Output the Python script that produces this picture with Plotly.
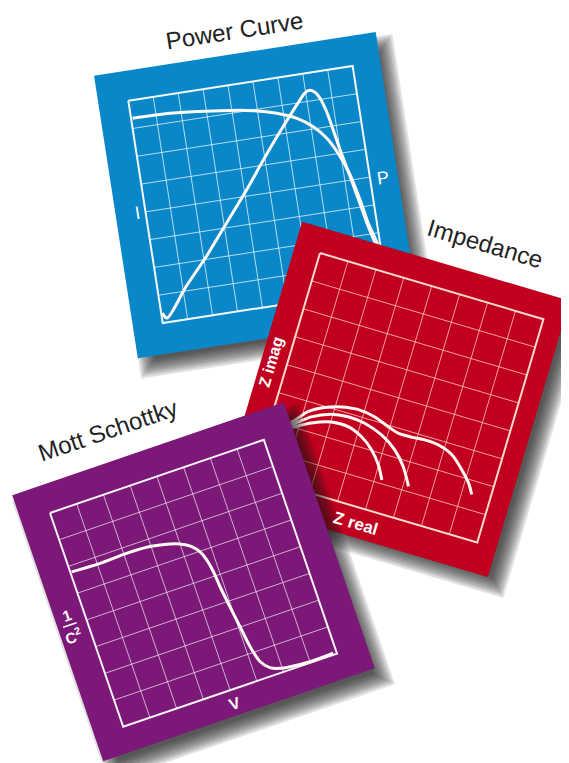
import numpy as np
import plotly.graph_objects as go

# ---- curve data, in grid cell units (x to the right, y upwards) ----

# Power curve panel (9 x 8 cells)
iv_x = [0.06, 1.56, 3.54, 4.84, 5.74, 6.50, 7.09, 7.55, 7.96, 8.24, 8.48, 8.66, 8.87, 9.00, 9.09]
iv_y = [7.36, 7.33, 7.15, 6.97, 6.75, 6.46, 6.08, 5.60, 4.89, 4.19, 3.26, 2.39, 1.70, 0.96, 0.24]

pw_x = [0.04, 0.20, 1.14, 2.11, 3.10, 4.09, 4.93, 5.76, 6.42, 6.72, 6.95, 7.14, 7.34, 7.52, 7.70,
        8.00, 8.23, 8.45, 8.64, 8.84, 9.00, 9.09]
pw_y = [0.35, 0.15, 1.16, 2.10, 3.16, 4.22, 5.18, 6.09, 6.78, 7.08, 7.30, 7.38, 7.30, 7.06, 6.55,
        5.12, 4.13, 3.14, 2.28, 1.53, 0.64, 0.08]

# Impedance panel (8 x 8 cells), three Nyquist arcs
arc_a_x = [0.24, 0.86, 1.37, 2.02, 2.62, 3.15, 3.62, 3.99, 4.25]
arc_a_y = [1.68, 2.03, 2.32, 2.55, 2.56, 2.36, 2.02, 1.59, 1.13]

arc_b_x = [0.24, 0.83, 1.31, 1.94, 2.52, 3.13, 3.80, 4.38, 4.82, 5.19]
arc_b_y = [1.72, 2.14, 2.52, 2.80, 2.88, 2.83, 2.61, 2.25, 1.78, 1.18]

arc_c_x = [0.24, 0.80, 1.15, 1.66, 2.20, 2.77, 3.39, 3.93, 4.33, 4.80, 5.27, 5.76, 6.30, 6.78, 7.13, 7.35]
arc_c_y = [1.76, 2.25, 2.66, 2.96, 3.14, 3.22, 3.14, 2.95, 2.83, 2.83, 2.87, 2.84, 2.65, 2.25, 1.88, 1.53]

# Mott Schottky panel (8 x 8 cells)
ms_x = [0.05, 1.10, 2.10, 2.96, 3.55, 4.00, 4.36, 4.58, 4.71, 4.80, 4.85, 4.95, 5.06, 5.17,
        5.33, 5.59, 5.92, 6.28, 7.00, 7.88]
ms_y = [5.78, 5.74, 5.77, 5.73, 5.62, 5.47, 5.25, 4.98, 4.63, 4.16, 3.58, 2.80, 2.02, 1.23,
        0.62, 0.30, 0.16, 0.10, 0.04, 0.06]

W, H = 569, 763
PAGE_PAD = 8  # default body margin of the html page

# panel geometry: grid origin on the page, tilt, grid size, cells, margins (l, t, r, b)
PANELS = {
    "blue": dict(origin=(128.3, 100.7), angle=-8.8, gw=227, gh=225, cols=9, rows=8,
                 margins=(30, 30, 28, 31), color="#0a87c8",
                 grid="rgba(255,255,255,0.7)", border="rgba(255,255,255,0.95)"),
    "red": dict(origin=(320, 253), angle=16.5, gw=233, gh=233, cols=8, rows=8,
                margins=(26, 25, 20, 30), color="#c0001e",
                grid="rgba(255,215,200,0.75)", border="rgba(255,230,215,0.95)"),
    "purple": dict(origin=(50, 513), angle=-18.9, gw=226, gh=226, cols=8, rows=8,
                   margins=(30, 29, 31, 26), color="#7b1878",
                   grid="rgba(255,255,255,0.65)", border="rgba(255,255,255,0.95)"),
}


def local(p, lx, ly):
    # local pixel coords (relative to grid origin) -> page coords
    th = np.radians(p["angle"])
    c, s = np.cos(th), np.sin(th)
    lx = np.asarray(lx, dtype=float)
    ly = np.asarray(ly, dtype=float)
    ox, oy = p["origin"]
    return ox + lx * c - ly * s, oy + lx * s + ly * c


def cell(p, gx, gy):
    # grid cell units -> page coords
    gx = np.asarray(gx, dtype=float)
    gy = np.asarray(gy, dtype=float)
    return local(p, gx * p["gw"] / p["cols"], (p["rows"] - gy) * p["gh"] / p["rows"])


def rect(p, x0, y0, x1, y1):
    return local(p, [x0, x1, x1, x0, x0], [y0, y0, y1, y1, y0])


fig = go.Figure()


def add_panel(key, curves):
    p = PANELS[key]
    l, t, r, b = p["margins"]
    gw, gh = p["gw"], p["gh"]

    # soft drop shadow
    for e in np.linspace(-9, 8, 9):
        xs, ys = rect(p, -l - e, -t - e, gw + r + e, gh + b + e)
        fig.add_trace(go.Scatter(x=xs + 10, y=ys + 11, mode="lines", fill="toself",
                                 fillcolor="rgba(25,25,25,0.13)", line=dict(width=0),
                                 hoverinfo="skip"))

    xs, ys = rect(p, -l, -t, gw + r, gh + b)
    fig.add_trace(go.Scatter(x=xs, y=ys, mode="lines", fill="toself",
                             fillcolor=p["color"], line=dict(width=0, color=p["color"]),
                             hoverinfo="skip"))

    # inner grid lines
    gx, gy = [], []
    for i in range(1, p["cols"]):
        x0, y0 = cell(p, [i, i], [0, p["rows"]])
        gx += list(x0) + [None]
        gy += list(y0) + [None]
    for j in range(1, p["rows"]):
        x0, y0 = cell(p, [0, p["cols"]], [j, j])
        gx += list(x0) + [None]
        gy += list(y0) + [None]
    fig.add_trace(go.Scatter(x=gx, y=gy, mode="lines", line=dict(color=p["grid"], width=1),
                             hoverinfo="skip"))

    bx, by = rect(p, 0, 0, gw, gh)
    fig.add_trace(go.Scatter(x=bx, y=by, mode="lines", line=dict(color=p["border"], width=2),
                             hoverinfo="skip"))

    for cx, cy in curves:
        x0, y0 = cell(p, cx, cy)
        fig.add_trace(go.Scatter(x=x0, y=y0, mode="lines",
                                 line=dict(color="#fffaf4", width=3, shape="spline", smoothing=0.8),
                                 hoverinfo="skip"))


add_panel("blue", [(iv_x, iv_y), (pw_x, pw_y)])
add_panel("red", [(arc_a_x, arc_a_y), (arc_b_x, arc_b_y), (arc_c_x, arc_c_y)])
add_panel("purple", [(ms_x, ms_y)])

annotations = []


def label(key, gx, gy, text, size, bold=False, angle_off=0.0):
    p = PANELS[key]
    x0, y0 = cell(p, gx, gy)
    annotations.append(dict(x=float(x0), y=float(y0), text=f"<b>{text}</b>" if bold else text,
                            showarrow=False, textangle=p["angle"] + angle_off,
                            xanchor="center", yanchor="middle",
                            font=dict(family="Liberation Sans, Arial, sans-serif", size=size,
                                      color="white")))


label("blue", -0.34, 4.0, "I", 18)
label("blue", 9.51, 3.89, "P", 18)
label("red", -0.55, 3.95, "Z imag", 16, bold=True, angle_off=-90)
label("red", 3.8, -0.56, "Z real", 17, bold=True)
label("purple", -0.62, 4.36, "1", 15, bold=True)
label("purple", -0.62, 3.62, "C<sup>2</sup>", 15, bold=True)
label("purple", 4.0, -0.48, "V", 16, bold=True)

# fraction bar of 1/C^2
p = PANELS["purple"]
fx, fy = cell(p, [-0.87, -0.37], [4.02, 4.02])
fig.add_trace(go.Scatter(x=fx, y=fy, mode="lines", line=dict(color="white", width=1.5),
                         hoverinfo="skip"))

titles = [("Power Curve", 234.5, 30, -8.8), ("Impedance", 485, 243, 16.5),
          ("Mott Schottky", 107, 430, -18.9)]
for text, tx, ty, ang in titles:
    annotations.append(dict(x=tx, y=ty, text=text, showarrow=False, textangle=ang,
                            xanchor="center", yanchor="middle",
                            font=dict(family="Liberation Sans, Arial, sans-serif", size=24,
                                      color="#222222")))

fig.update_layout(
    width=W, height=H,
    margin=dict(l=0, r=0, t=0, b=0),
    paper_bgcolor="white", plot_bgcolor="white",
    showlegend=False,
    xaxis=dict(range=[PAGE_PAD, W + PAGE_PAD], visible=False, fixedrange=True),
    yaxis=dict(range=[H + PAGE_PAD, PAGE_PAD], visible=False, fixedrange=True),
    annotations=annotations,
)

fig.write_html("out.html")
